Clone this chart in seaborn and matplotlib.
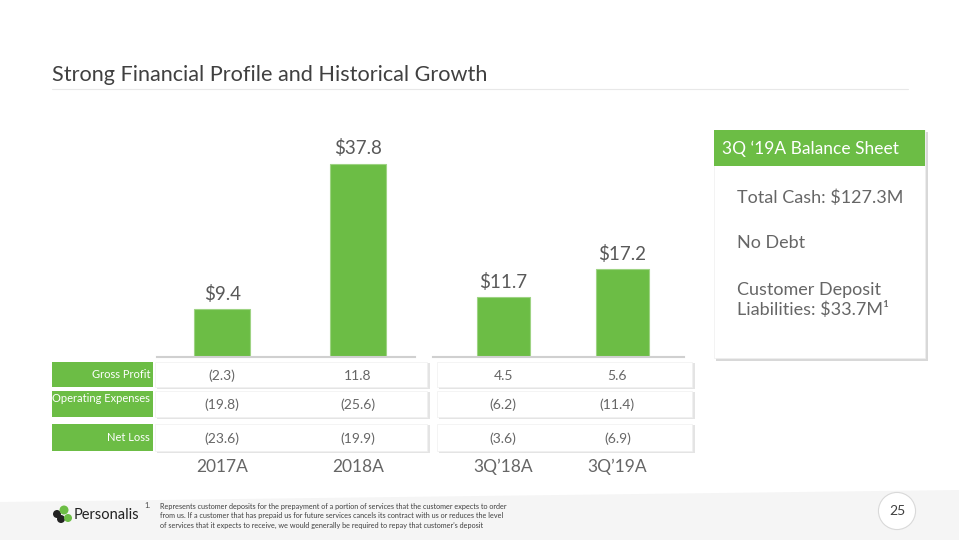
import matplotlib
matplotlib.use("Agg")
import matplotlib.pyplot as plt
import matplotlib.patches as mpatches
import matplotlib.transforms as mtransforms
import pandas as pd
import seaborn as sns

# data
years_full = ["2017A", "2018A"]
revenue_full = [9.4, 37.8]
years_q = ["3Q\u201918A", "3Q\u201919A"]
revenue_q = [11.7, 17.2]
row_labels = ["Gross Profit", "Operating Expenses", "Net Loss"]
gross_profit = [-2.3, 11.8, 4.5, 5.6]
operating_expenses = [-19.8, -25.6, -6.2, -11.4]
net_loss = [-23.6, -19.9, -3.6, -6.9]
balance_items = ["Total Cash: $127.3M", "No Debt", "Customer Deposit\nLiabilities: $33.7M\u00b9"]

GREEN = "#6CBD45"
GRAY = "#595959"
LIGHT = "#666666"
W, H = 959, 540

sns.set_style("white")
plt.rcParams["font.family"] = ["Lato", "DejaVu Sans"]

fig = plt.figure(figsize=(9.59, 5.4), dpi=100)


def fx(x):
    return x / W


def fy(y):
    return 1 - y / H


def rect(x0, y0, x1, y1, **kw):
    fig.patches.append(mpatches.Rectangle((fx(x0), fy(y1)), fx(x1 - x0), (y1 - y0) / H,
                                          transform=fig.transFigure, **kw))


def fmt(v):
    return f"({abs(v):.1f})" if v < 0 else f"{v:.1f}"


# footer band
fig.patches.append(mpatches.Polygon([(0, fy(502)), (1, fy(490)), (1, 0), (0, 0)], closed=True,
                                    transform=fig.transFigure, fc="#f5f5f5", ec="none", zorder=0))

# title
fig.text(fx(52), fy(75), "Strong Financial Profile and Historical Growth", fontsize=15.6,
         color="#404040", va="center", ha="left")
fig.lines.append(plt.Line2D([fx(52), fx(908)], [fy(89), fy(89)], transform=fig.transFigure,
                            color="#e8e8e8", lw=0.8))

# bar charts
axes = []
for x0, x1, cats, vals, xl, bw in [(157, 415, years_full, revenue_full, (-0.48, 1.42), 0.41),
                                    (433, 684, years_q, revenue_q, (-0.59, 1.52), 0.445)]:
    ax = fig.add_axes([fx(x0), fy(357), fx(x1 - x0), 215 / H])
    df = pd.DataFrame({"period": cats, "revenue": vals})
    sns.barplot(data=df, x="period", y="revenue", color=GREEN, saturation=1, width=bw,
                edgecolor="#9ed383", linewidth=0.8, ax=ax)
    ax.set_xlim(*xl)
    ax.set_ylim(0, 42)
    ax.set_xticks([])
    ax.set_yticks([])
    ax.set_xlabel("")
    ax.set_ylabel("")
    ax.patch.set_alpha(0)
    for s in ["top", "left", "right"]:
        ax.spines[s].set_visible(False)
    ax.spines["bottom"].set_color("#d0d0d0")
    ax.spines["bottom"].set_linewidth(1.5)
    for i, v in enumerate(vals):
        ax.text(i, v + 1.2, f"${v:.1f}", ha="center", va="bottom", fontsize=13.5, color=GRAY)
    axes.append(ax)

# table
row_y = [(362, 387), (391, 417), (424, 451)]
blocks = [(155, 427), (437, 692)]
for (y0, y1) in row_y:
    rect(52, y0, 153, y1, fc=GREEN, ec="none")
    for (b0, b1) in blocks:
        rect(b0 + 2, y0 + 1, b1 + 3, y1 + 2, fc="#e4e4e4", ec="none")
        rect(b0, y0, b1, y1, fc="white", ec="#f0f0f0", lw=0.5)

for (y0, y1), lab in zip(row_y, row_labels):
    if lab == "Operating Expenses":
        fig.text(fx(150), fy(y0 + 8), lab, ha="right", va="center", fontsize=8, color="white")
    else:
        fig.text(fx(150), fy((y0 + y1) / 2), lab, ha="right", va="center", fontsize=8, color="white")

rows = [gross_profit, operating_expenses, net_loss]
cats_all = years_full + years_q
for j, vals in enumerate(rows):
    y0, y1 = row_y[j]
    for i, v in enumerate(vals):
        ax = axes[i // 2]
        tr = mtransforms.blended_transform_factory(ax.transData, fig.transFigure)
        xi = i % 2
        if i == 3:
            xi = 0.96
        fig.text(xi, fy((y0 + y1) / 2 + 1), fmt(v), transform=tr, ha="center", va="center",
                 fontsize=10, color=LIGHT)

for i, c in enumerate(cats_all):
    ax = axes[i // 2]
    tr = mtransforms.blended_transform_factory(ax.transData, fig.transFigure)
    xi = i % 2
    if i == 3:
        xi = 0.96
    fig.text(xi, fy(467), c, transform=tr, ha="center", va="center", fontsize=12.5, color=LIGHT)

# balance sheet box
rect(716, 132, 928, 361, fc="#d8d8d8", ec="none")
rect(714, 130, 925, 358, fc="white", ec="#eeeeee", lw=0.5)
rect(714, 130, 925, 166, fc=GREEN, ec="none")
fig.text(fx(722), fy(149), "3Q \u201819A Balance Sheet", fontsize=12.5, color="white",
         ha="left", va="center")
fig.text(fx(737), fy(198), balance_items[0], fontsize=13, color=LIGHT, ha="left", va="center")
fig.text(fx(737), fy(243), balance_items[1], fontsize=13, color=LIGHT, ha="left", va="center")
fig.text(fx(737), fy(300), balance_items[2], fontsize=13, color=LIGHT, ha="left", va="center",
         linespacing=1.25)

# footer: logo, footnote, page number
for (cx, cy, r, c) in [(57, 514, 4, "#222222"), (64, 510, 4.5, GREEN), (61, 519, 4, "#222222"),
                       (68, 518, 4, GREEN)]:
    fig.patches.append(mpatches.Ellipse((fx(cx), fy(cy)), 2 * r / W, 2 * r / H,
                                        transform=fig.transFigure, fc=c, ec="none"))
fig.text(fx(74), fy(515), "Personalis", fontsize=10.5, color="#222222", ha="left", va="center")
fig.text(fx(144), fy(506), "1.", fontsize=5.2, color="#404040", ha="left", va="center")
fig.text(fx(160), fy(516),
         "Represents customer deposits for the prepayment of a portion of services that the customer expects to order\n"
         "from us. If a customer that has prepaid us for future services cancels its contract with us or reduces the level\n"
         "of services that it expects to receive, we would generally be required to repay that customer\u2019s deposit",
         fontsize=5.2, color="#404040", ha="left", va="center", linespacing=1.45)
fig.text(fx(897), fy(511), "25", fontsize=10, color="#404040", ha="center", va="center",
         bbox=dict(boxstyle="circle,pad=0.75", fc="white", ec="#d9d9d9", lw=0.8))

fig.savefig("out.png", dpi=100)
